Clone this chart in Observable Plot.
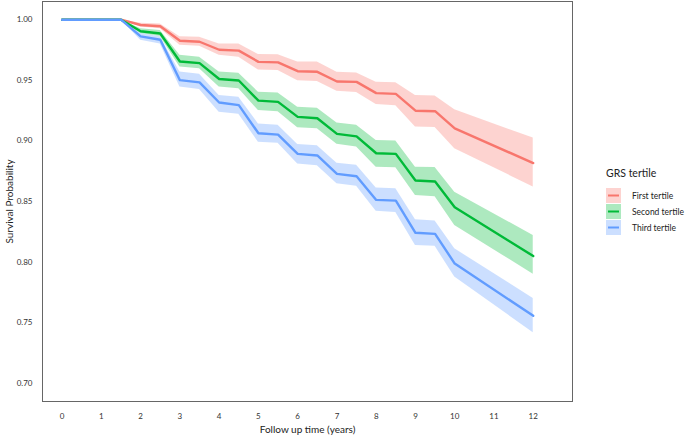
<!DOCTYPE html>
<html>
<head>
<meta charset="utf-8">
<script src="https://cdn.jsdelivr.net/npm/d3@7"></script>
<script src="https://cdn.jsdelivr.net/npm/@observablehq/plot@0.6"></script>
<style>
  html, body { margin: 0; padding: 0; background: #fff; }
  #chart { width: 685px; height: 435px; position: relative; }
</style>
</head>
<body>
<div id="chart"></div>
<script>
const times = [0, 1.5, 2, 2.5, 3, 3.5, 4, 4.5, 5, 5.5, 6, 6.5, 7, 7.5, 8, 8.5, 9, 9.5, 10, 12];

const groups = ["First tertile", "Second tertile", "Third tertile"];
const lineColors = ["#F8766D", "#00BA38", "#619CFF"];

const firstSurv  = [1, 1, 0.9956, 0.9946, 0.9826, 0.9818, 0.9752, 0.9745, 0.9652, 0.9648, 0.9575, 0.957, 0.949, 0.9487, 0.9394, 0.9388, 0.9249, 0.9245, 0.9103, 0.8817];
const firstLower = [1, 1, 0.994, 0.9925, 0.979, 0.978, 0.9706, 0.969, 0.9585, 0.958, 0.9497, 0.949, 0.941, 0.940, 0.930, 0.929, 0.9115, 0.911, 0.8936, 0.862];
const firstUpper = [1, 1, 0.997, 0.9965, 0.986, 0.9855, 0.980, 0.980, 0.9712, 0.971, 0.9651, 0.965, 0.9566, 0.956, 0.9483, 0.948, 0.9374, 0.937, 0.9257, 0.9023];

const secondSurv  = [1, 1, 0.9905, 0.9886, 0.9655, 0.9642, 0.9511, 0.9498, 0.9332, 0.9322, 0.9198, 0.9187, 0.9058, 0.9037, 0.8898, 0.8893, 0.8673, 0.8665, 0.8453, 0.805];
const secondLower = [1, 1, 0.9885, 0.9862, 0.961, 0.9595, 0.9445, 0.943, 0.925, 0.924, 0.9108, 0.910, 0.8972, 0.895, 0.8783, 0.8778, 0.855, 0.854, 0.8302, 0.79];
const secondUpper = [1, 1, 0.9925, 0.991, 0.9706, 0.969, 0.9568, 0.9558, 0.9402, 0.9395, 0.9278, 0.927, 0.9148, 0.913, 0.9003, 0.900, 0.8783, 0.878, 0.8577, 0.822];

const thirdSurv  = [1, 1, 0.9862, 0.9834, 0.9501, 0.9483, 0.9317, 0.9295, 0.9063, 0.9052, 0.8893, 0.888, 0.8728, 0.8708, 0.8513, 0.8507, 0.8242, 0.8233, 0.7988, 0.7557];
const thirdLower = [1, 1, 0.983, 0.980, 0.9445, 0.9425, 0.9236, 0.922, 0.8989, 0.898, 0.881, 0.8795, 0.8646, 0.8625, 0.8419, 0.841, 0.8138, 0.813, 0.7878, 0.7417];
const thirdUpper = [1, 1, 0.9885, 0.986, 0.9568, 0.955, 0.9374, 0.936, 0.914, 0.913, 0.897, 0.896, 0.8816, 0.880, 0.8612, 0.8605, 0.835, 0.834, 0.811, 0.77];

const xTicks = [0, 1, 2, 3, 4, 5, 6, 7, 8, 9, 10, 11, 12];
const yTicks = [0.70, 0.75, 0.80, 0.85, 0.90, 0.95, 1.00];

const series = [
  [firstSurv, firstLower, firstUpper],
  [secondSurv, secondLower, secondUpper],
  [thirdSurv, thirdLower, thirdUpper]
];

const rows = [];
series.forEach(([s, lo, hi], gi) => {
  times.forEach((t, i) => rows.push({group: groups[gi], time: t, surv: s[i], lower: lo[i], upper: hi[i]}));
});

const W = 685, H = 435;
const mL = 42, mR = 113, mT = 1, mB = 34;

const chart = Plot.plot({
  width: W,
  height: H,
  marginLeft: mL,
  marginRight: mR,
  marginTop: mT,
  marginBottom: mB,
  style: {fontFamily: "Lato, 'Open Sans', sans-serif", fontSize: "8px", color: "#333", background: "#fff", overflow: "visible"},
  x: {domain: [-0.5, 13], ticks: xTicks, tickFormat: d => String(d)},
  y: {domain: [0.685, 1.015], ticks: yTicks, tickFormat: d3.format(".2f")},
  color: {domain: groups, range: lineColors},
  marks: [
    Plot.areaY(rows, {x: "time", y1: "lower", y2: "upper", z: "group", fill: "group", fillOpacity: 0.32, curve: "linear"}),
    Plot.lineY(rows, {x: "time", y: "surv", z: "group", stroke: "group", strokeWidth: 2.4, curve: "linear"}),
    Plot.frame({stroke: "#666", strokeWidth: 1}),
    Plot.axisX({ticks: xTicks, tickSize: 0, tickPadding: 12, tickFormat: d => String(d),
      label: "Follow up time (years)", labelAnchor: "center", labelArrow: "none", labelOffset: 31,
      fontSize: 8}),
    Plot.axisY({ticks: yTicks, tickSize: 0, tickPadding: 10, tickFormat: d3.format(".2f"),
      label: "Survival Probability", labelAnchor: "center", labelArrow: "none", labelOffset: 37,
      fontSize: 8})
  ]
});

document.getElementById("chart").appendChild(chart);

// Axis titles a bit larger
d3.select(chart).selectAll("[aria-label='x-axis label'] text, [aria-label='y-axis label'] text")
  .style("font-size", "10px").attr("fill", "#222");

// Legend inside the SVG's right margin
const svg = d3.select(chart);
const lg = svg.append("g").attr("transform", "translate(606,0)")
  .attr("text-anchor", "start")
  .style("font-family", "Lato, 'Open Sans', sans-serif");
lg.append("text").attr("x", 0).attr("y", 177).attr("text-anchor", "start").text("GRS tertile")
  .style("font-size", "10.5px").attr("fill", "#222");
groups.forEach((g, i) => {
  const y0 = 188 + i * 16;
  lg.append("rect").attr("x", 0).attr("y", y0).attr("width", 15).attr("height", 15)
    .attr("fill", lineColors[i]).attr("fill-opacity", 0.32);
  lg.append("line").attr("x1", 2).attr("x2", 13).attr("y1", y0 + 7.5).attr("y2", y0 + 7.5)
    .attr("stroke", lineColors[i]).attr("stroke-width", 2);
  lg.append("text").attr("x", 26).attr("y", y0 + 10.5).attr("text-anchor", "start").text(g)
    .style("font-size", "8.5px").attr("fill", "#222");
});
</script>
</body>
</html>
